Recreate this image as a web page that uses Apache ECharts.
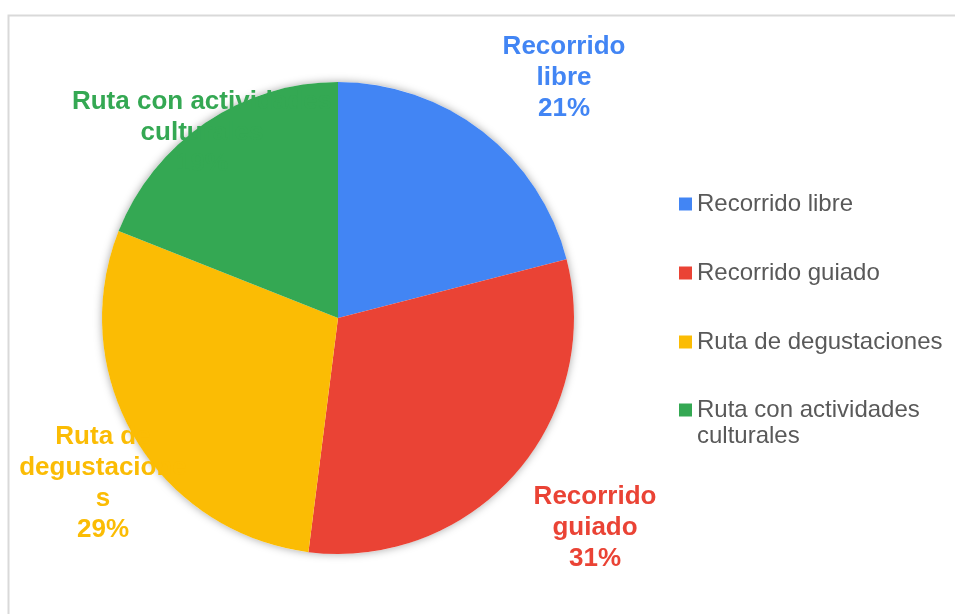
<!DOCTYPE html>
<html>
<head>
<meta charset="utf-8">
<script src="https://cdn.jsdelivr.net/npm/echarts@6/dist/echarts.min.js"></script>
<style>
  html, body { margin: 0; padding: 0; background: #fff; }
  #pie-chart { width: 955px; height: 614px; }
</style>
</head>
<body>
<div id="pie-chart"></div>
<script>
// data
var categories = ['Recorrido libre', 'Recorrido guiado', 'Ruta de degustaciones', 'Ruta con actividades culturales'];
var values = [21, 31, 29, 19];
var colors = ['#4285F4', '#EA4335', '#FBBC04', '#34A853'];
// label text as wrapped in the picture
var labelText = ['Recorrido\nlibre\n21%', 'Recorrido\nguiado\n31%', 'Ruta de\ndegustacione\ns\n29%', 'Ruta con actividades\nculturales\n19%'];
// where each label sits (centre of the text block)
var labelPos = [[564, 78], [595, 528], [103, 483], [202, 133]];

var chart = echarts.init(document.getElementById('pie-chart'));

var pieData = categories.map(function (name, i) {
  return {
    name: name,
    value: values[i],
    itemStyle: { color: colors[i] },
    label: { color: colors[i] }
  };
});

var legendText = {
  fontFamily: 'Liberation Sans, Arial, sans-serif',
  fontSize: 24,
  lineHeight: 26,
  color: '#595959'
};

chart.setOption({
  animation: false,
  graphic: [
    {
      type: 'rect',
      silent: true,
      z: -10,
      shape: { x: 8.5, y: 15.5, width: 1000, height: 700 },
      style: { fill: 'none', stroke: '#d9d9d9', lineWidth: 2 }
    }
  ],
  legend: [
    {
      orient: 'vertical',
      left: 674,
      top: 186,
      itemWidth: 13,
      itemHeight: 13,
      itemGap: 43,
      icon: 'rect',
      data: categories.slice(0, 3),
      textStyle: legendText
    },
    {
      // last entry wraps; blank first line keeps the icon on the first text line
      orient: 'vertical',
      left: 674,
      top: 366,
      itemWidth: 13,
      itemHeight: 13,
      icon: 'rect',
      data: [categories[3]],
      formatter: function () { return '\nRuta con actividades\nculturales'; },
      textStyle: legendText
    }
  ],
  series: [
    {
      // soft shadow under the whole pie
      type: 'pie',
      silent: true,
      z: 1,
      center: [338, 318],
      radius: 236,
      label: { show: false },
      labelLine: { show: false },
      data: [{ value: 1, name: '_shadow', itemStyle: { color: '#fff', shadowBlur: 8, shadowColor: 'rgba(0,0,0,0.35)' } }]
    },
    {
      type: 'pie',
      z: 2,
      center: [338, 318],
      radius: 236,
      startAngle: 90,
      clockwise: true,
      data: pieData,
      itemStyle: { borderWidth: 0 },
      emphasis: { disabled: true },
      labelLine: { show: false },
      label: {
        show: true,
        formatter: function (p) { return labelText[p.dataIndex]; },
        fontFamily: 'Liberation Sans, Arial, sans-serif',
        fontSize: 26,
        fontWeight: 'bold',
        lineHeight: 31,
        align: 'center',
        overflow: 'none',
        width: 400
      },
      labelLayout: function (params) {
        var pos = labelPos[params.dataIndex];
        return { x: pos[0], y: pos[1], align: 'center', verticalAlign: 'middle', width: 400 };
      }
    }
  ]
});
</script>
</body>
</html>
